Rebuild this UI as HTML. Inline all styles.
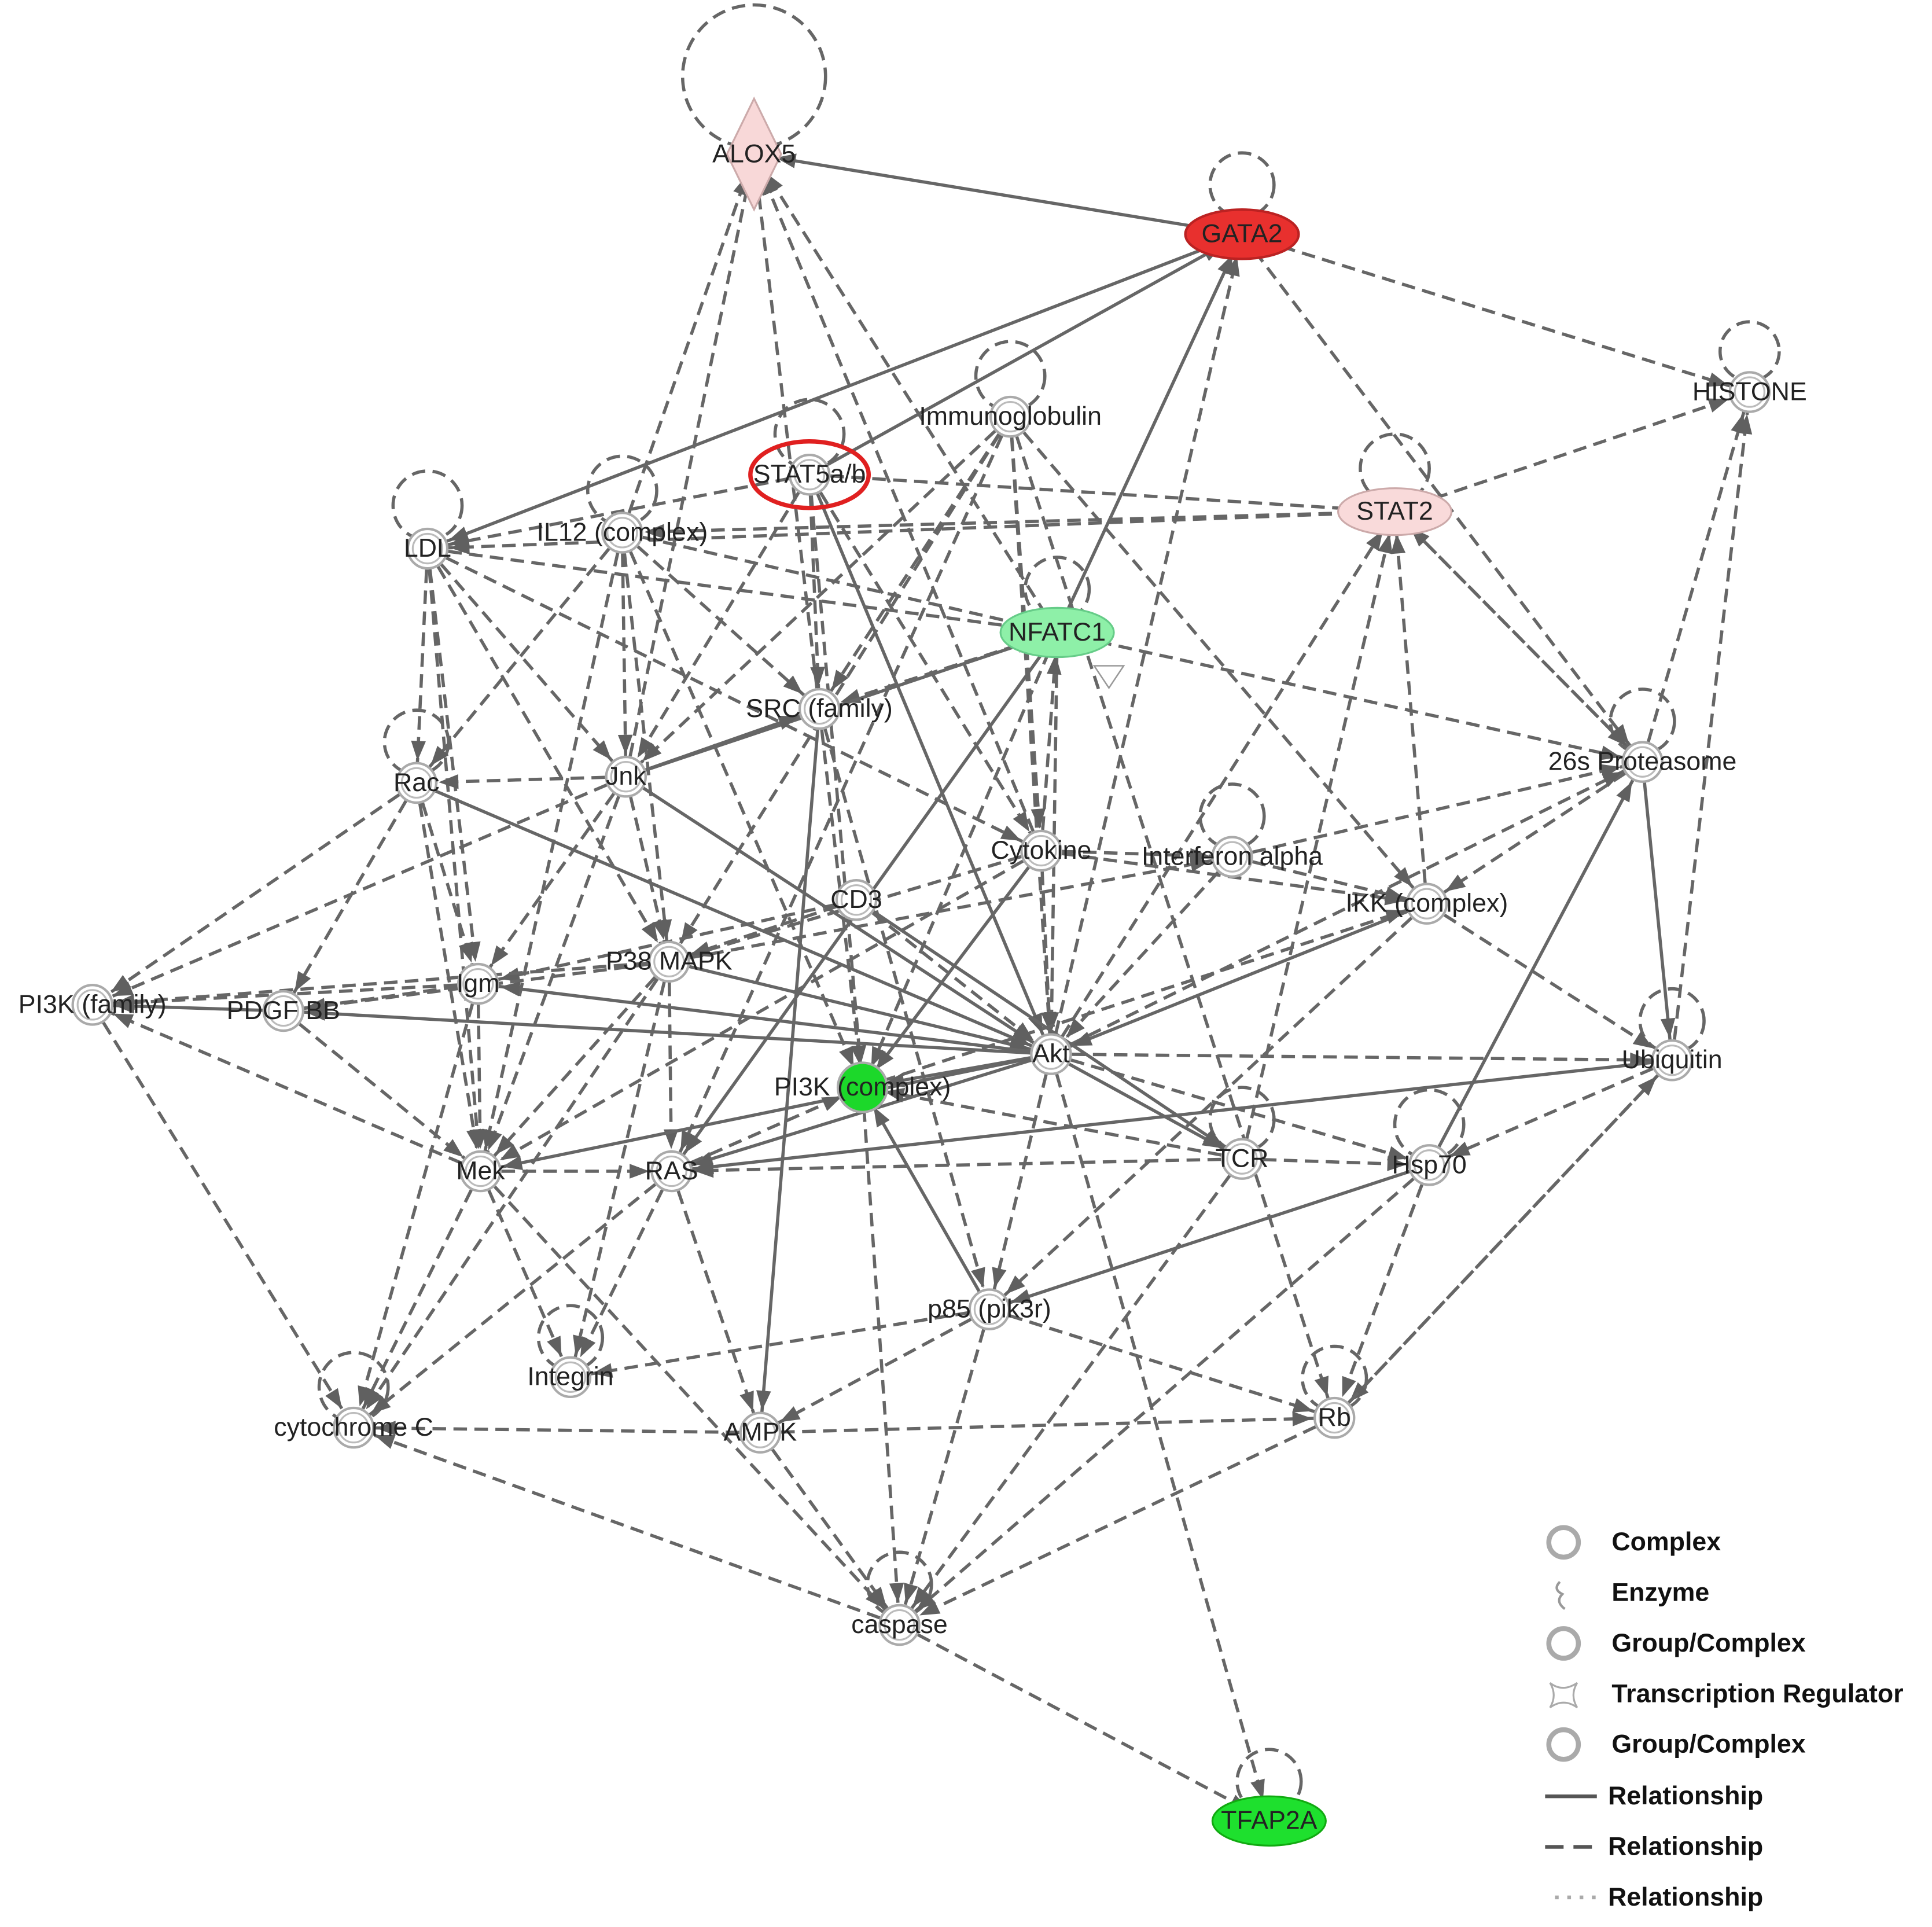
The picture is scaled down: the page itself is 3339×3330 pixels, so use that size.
<!DOCTYPE html>
<html><head><meta charset="utf-8"><style>
html,body{margin:0;padding:0;background:#fff;}
svg{display:block;}
.d{stroke:#666;stroke-width:2.6;stroke-dasharray:11 6;fill:none;marker-end:url(#a);}
.s{stroke:#666;stroke-width:2.6;fill:none;marker-end:url(#a);}
.lp{stroke:#666;stroke-width:2.6;stroke-dasharray:11 6;fill:none;}
.n{fill:#fff;stroke:#aaa;stroke-width:2;}
.ni{fill:none;stroke:#bbb;stroke-width:1.5;}
text{font-family:"Liberation Sans",sans-serif;font-size:21px;fill:#222;text-anchor:middle;dominant-baseline:middle;}
.lg{font-size:21px;font-weight:bold;text-anchor:start;fill:#111;}
</style></head><body>
<svg width="3339" height="3330" viewBox="0 0 1568 1563" preserveAspectRatio="none">
<defs><marker id="a" viewBox="0 0 16 12" refX="34" refY="6" markerWidth="16" markerHeight="12" markerUnits="userSpaceOnUse" orient="auto" overflow="visible"><path d="M0,0 L16,6 L0,12 z" fill="#606060"/></marker></defs>
<rect width="1568" height="1563" fill="#fff"/>
<g>
<circle class="lp" cx="612" cy="62" r="58"/>
<circle class="lp" cx="1008" cy="150" r="26"/>
<circle class="lp" cx="1420" cy="285" r="24"/>
<circle class="lp" cx="820" cy="305" r="28"/>
<circle class="lp" cx="657" cy="352" r="28"/>
<circle class="lp" cx="1132" cy="380" r="28"/>
<circle class="lp" cx="347" cy="410" r="28"/>
<circle class="lp" cx="505" cy="398" r="28"/>
<circle class="lp" cx="858" cy="478" r="26"/>
<circle class="lp" cx="1333" cy="585" r="26"/>
<circle class="lp" cx="338" cy="602" r="26"/>
<circle class="lp" cx="1000" cy="662" r="26"/>
<circle class="lp" cx="1357" cy="828" r="26"/>
<circle class="lp" cx="1008" cy="908" r="26"/>
<circle class="lp" cx="1160" cy="912" r="28"/>
<circle class="lp" cx="463" cy="1085" r="26"/>
<circle class="lp" cx="1083" cy="1118" r="26"/>
<circle class="lp" cx="287" cy="1125" r="28"/>
<circle class="lp" cx="730" cy="1285" r="26"/>
<circle class="lp" cx="1030" cy="1445" r="26"/>
<line class="s" x1="1008" y1="190" x2="612" y2="125"/>
<line class="d" x1="1008" y1="190" x2="1420" y2="318"/>
<line class="d" x1="1008" y1="190" x2="1333" y2="618"/>
<line class="s" x1="657" y1="385" x2="1008" y2="190"/>
<line class="s" x1="858" y1="513" x2="1008" y2="190"/>
<line class="d" x1="853" y1="855" x2="1008" y2="190"/>
<line class="d" x1="505" y1="432" x2="612" y2="125"/>
<line class="d" x1="508" y1="630" x2="612" y2="125"/>
<line class="d" x1="858" y1="513" x2="612" y2="125"/>
<line class="d" x1="845" y1="690" x2="612" y2="125"/>
<line class="d" x1="665" y1="575" x2="612" y2="125"/>
<line class="d" x1="1132" y1="415" x2="1420" y2="318"/>
<line class="d" x1="1333" y1="618" x2="1420" y2="318"/>
<line class="d" x1="1357" y1="860" x2="1420" y2="318"/>
<line class="d" x1="1132" y1="415" x2="347" y2="445"/>
<line class="d" x1="1132" y1="415" x2="505" y2="432"/>
<line class="d" x1="657" y1="385" x2="1132" y2="415"/>
<line class="d" x1="1333" y1="618" x2="1132" y2="415"/>
<line class="d" x1="1132" y1="415" x2="1333" y2="618"/>
<line class="d" x1="853" y1="855" x2="1132" y2="415"/>
<line class="d" x1="1008" y1="940" x2="1132" y2="415"/>
<line class="d" x1="1158" y1="733" x2="1132" y2="415"/>
<line class="s" x1="1008" y1="190" x2="347" y2="445"/>
<line class="d" x1="657" y1="385" x2="347" y2="445"/>
<line class="d" x1="820" y1="338" x2="508" y2="630"/>
<line class="d" x1="820" y1="338" x2="665" y2="575"/>
<line class="d" x1="820" y1="338" x2="1158" y2="733"/>
<line class="d" x1="820" y1="338" x2="1083" y2="1150"/>
<line class="d" x1="820" y1="338" x2="853" y2="855"/>
<line class="d" x1="820" y1="338" x2="545" y2="950"/>
<line class="d" x1="820" y1="338" x2="845" y2="690"/>
<line class="d" x1="820" y1="338" x2="543" y2="780"/>
<line class="d" x1="347" y1="445" x2="338" y2="635"/>
<line class="d" x1="347" y1="445" x2="508" y2="630"/>
<line class="d" x1="347" y1="445" x2="388" y2="798"/>
<line class="d" x1="347" y1="445" x2="543" y2="780"/>
<line class="d" x1="347" y1="445" x2="390" y2="950"/>
<line class="d" x1="347" y1="445" x2="858" y2="513"/>
<line class="d" x1="347" y1="445" x2="845" y2="690"/>
<line class="d" x1="505" y1="432" x2="338" y2="635"/>
<line class="d" x1="505" y1="432" x2="508" y2="630"/>
<line class="d" x1="505" y1="432" x2="543" y2="780"/>
<line class="d" x1="505" y1="432" x2="858" y2="513"/>
<line class="d" x1="505" y1="432" x2="390" y2="950"/>
<line class="d" x1="505" y1="432" x2="700" y2="882"/>
<line class="d" x1="505" y1="432" x2="665" y2="575"/>
<line class="s" x1="657" y1="385" x2="853" y2="855"/>
<line class="d" x1="657" y1="385" x2="700" y2="882"/>
<line class="d" x1="657" y1="385" x2="665" y2="575"/>
<line class="d" x1="657" y1="385" x2="508" y2="630"/>
<line class="d" x1="657" y1="385" x2="845" y2="690"/>
<line class="d" x1="858" y1="513" x2="1333" y2="618"/>
<line class="d" x1="858" y1="513" x2="665" y2="575"/>
<line class="s" x1="508" y1="630" x2="858" y2="513"/>
<line class="d" x1="858" y1="513" x2="853" y2="855"/>
<line class="d" x1="845" y1="690" x2="858" y2="513"/>
<line class="s" x1="858" y1="513" x2="545" y2="950"/>
<line class="d" x1="858" y1="513" x2="700" y2="882"/>
<line class="d" x1="665" y1="575" x2="700" y2="882"/>
<line class="d" x1="665" y1="575" x2="803" y2="1062"/>
<line class="s" x1="1333" y1="618" x2="1357" y2="860"/>
<line class="d" x1="1333" y1="618" x2="1158" y2="733"/>
<line class="d" x1="1000" y1="695" x2="1333" y2="618"/>
<line class="d" x1="853" y1="855" x2="1333" y2="618"/>
<line class="s" x1="1160" y1="945" x2="1333" y2="618"/>
<line class="d" x1="338" y1="635" x2="75" y2="815"/>
<line class="d" x1="338" y1="635" x2="230" y2="820"/>
<line class="d" x1="508" y1="630" x2="338" y2="635"/>
<line class="s" x1="338" y1="635" x2="853" y2="855"/>
<line class="d" x1="338" y1="635" x2="390" y2="950"/>
<line class="d" x1="338" y1="635" x2="388" y2="798"/>
<line class="s" x1="508" y1="630" x2="853" y2="855"/>
<line class="d" x1="508" y1="630" x2="543" y2="780"/>
<line class="d" x1="508" y1="630" x2="390" y2="950"/>
<line class="d" x1="508" y1="630" x2="75" y2="815"/>
<line class="d" x1="508" y1="630" x2="388" y2="798"/>
<line class="s" x1="508" y1="630" x2="665" y2="575"/>
<line class="d" x1="845" y1="690" x2="1000" y2="695"/>
<line class="d" x1="845" y1="690" x2="853" y2="855"/>
<line class="d" x1="845" y1="690" x2="543" y2="780"/>
<line class="s" x1="845" y1="690" x2="700" y2="882"/>
<line class="d" x1="845" y1="690" x2="390" y2="950"/>
<line class="d" x1="845" y1="690" x2="1158" y2="733"/>
<line class="d" x1="1000" y1="695" x2="1158" y2="733"/>
<line class="d" x1="1000" y1="695" x2="853" y2="855"/>
<line class="d" x1="543" y1="780" x2="1000" y2="695"/>
<line class="s" x1="1158" y1="733" x2="853" y2="855"/>
<line class="d" x1="1158" y1="733" x2="1357" y2="860"/>
<line class="d" x1="1158" y1="733" x2="803" y2="1062"/>
<line class="d" x1="700" y1="882" x2="1158" y2="733"/>
<line class="d" x1="695" y1="730" x2="853" y2="855"/>
<line class="d" x1="695" y1="730" x2="543" y2="780"/>
<line class="d" x1="695" y1="730" x2="388" y2="798"/>
<line class="s" x1="543" y1="780" x2="853" y2="855"/>
<line class="d" x1="543" y1="780" x2="75" y2="815"/>
<line class="d" x1="543" y1="780" x2="230" y2="820"/>
<line class="d" x1="543" y1="780" x2="545" y2="950"/>
<line class="d" x1="543" y1="780" x2="390" y2="950"/>
<line class="d" x1="543" y1="780" x2="463" y2="1117"/>
<line class="d" x1="388" y1="798" x2="75" y2="815"/>
<line class="d" x1="388" y1="798" x2="230" y2="820"/>
<line class="d" x1="388" y1="798" x2="390" y2="950"/>
<line class="s" x1="230" y1="820" x2="75" y2="815"/>
<line class="d" x1="230" y1="820" x2="390" y2="950"/>
<line class="d" x1="390" y1="950" x2="75" y2="815"/>
<line class="s" x1="853" y1="855" x2="700" y2="882"/>
<line class="s" x1="853" y1="855" x2="1008" y2="940"/>
<line class="s" x1="853" y1="855" x2="545" y2="950"/>
<line class="s" x1="853" y1="855" x2="390" y2="950"/>
<line class="d" x1="853" y1="855" x2="803" y2="1062"/>
<line class="d" x1="853" y1="855" x2="1357" y2="860"/>
<line class="d" x1="853" y1="855" x2="1160" y2="945"/>
<line class="s" x1="853" y1="855" x2="388" y2="798"/>
<line class="s" x1="853" y1="855" x2="230" y2="820"/>
<line class="d" x1="1357" y1="860" x2="1160" y2="945"/>
<line class="s" x1="1357" y1="860" x2="545" y2="950"/>
<line class="d" x1="1357" y1="860" x2="1083" y2="1150"/>
<line class="d" x1="1008" y1="940" x2="700" y2="882"/>
<line class="d" x1="1008" y1="940" x2="545" y2="950"/>
<line class="d" x1="1008" y1="940" x2="1160" y2="945"/>
<line class="s" x1="1160" y1="945" x2="803" y2="1062"/>
<line class="d" x1="1160" y1="945" x2="1083" y2="1150"/>
<line class="d" x1="390" y1="950" x2="545" y2="950"/>
<line class="d" x1="390" y1="950" x2="287" y2="1158"/>
<line class="d" x1="390" y1="950" x2="463" y2="1117"/>
<line class="d" x1="545" y1="950" x2="700" y2="882"/>
<line class="d" x1="545" y1="950" x2="463" y2="1117"/>
<line class="d" x1="545" y1="950" x2="617" y2="1162"/>
<line class="d" x1="803" y1="1062" x2="463" y2="1117"/>
<line class="d" x1="803" y1="1062" x2="617" y2="1162"/>
<line class="s" x1="803" y1="1062" x2="700" y2="882"/>
<line class="d" x1="803" y1="1062" x2="1083" y2="1150"/>
<line class="d" x1="617" y1="1162" x2="1083" y2="1150"/>
<line class="d" x1="617" y1="1162" x2="287" y2="1158"/>
<line class="d" x1="730" y1="1318" x2="287" y2="1158"/>
<line class="d" x1="730" y1="1318" x2="1030" y2="1477"/>
<line class="d" x1="1160" y1="945" x2="730" y2="1318"/>
<line class="d" x1="1083" y1="1150" x2="730" y2="1318"/>
<line class="d" x1="1008" y1="940" x2="730" y2="1318"/>
<line class="d" x1="803" y1="1062" x2="730" y2="1318"/>
<line class="d" x1="853" y1="855" x2="1030" y2="1477"/>
<line class="d" x1="617" y1="1162" x2="730" y2="1318"/>
<line class="d" x1="700" y1="882" x2="730" y2="1318"/>
<line class="d" x1="390" y1="950" x2="730" y2="1318"/>
<line class="d" x1="75" y1="815" x2="287" y2="1158"/>
<line class="d" x1="388" y1="798" x2="287" y2="1158"/>
<line class="d" x1="543" y1="780" x2="287" y2="1158"/>
<line class="d" x1="545" y1="950" x2="287" y2="1158"/>
<line class="s" x1="695" y1="730" x2="1008" y2="940"/>
<line class="s" x1="665" y1="575" x2="617" y2="1162"/>
<line class="d" x1="1083" y1="1150" x2="1357" y2="860"/>
</g>
<g>
<polygon points="612,80 634,125 612,170 590,125" fill="#f8d8d8" stroke="#caa" stroke-width="1.5"/>
<ellipse cx="1008" cy="190" rx="46" ry="20" fill="#e8302e" stroke="#b22" stroke-width="2"/>
<ellipse cx="1132" cy="415" rx="46" ry="19" fill="#f9dada" stroke="#caa" stroke-width="1.5"/>
<ellipse cx="858" cy="513" rx="46" ry="20" fill="#8ef0a8" stroke="#6c8" stroke-width="1.5"/>
<ellipse cx="1030" cy="1477" rx="46" ry="20" fill="#1ee02e" stroke="#1a1" stroke-width="1.5"/>
<circle cx="700" cy="882" r="20" fill="#1cd82a" stroke="#aaa" stroke-width="2"/>
<polygon points="888,540 912,540 900,558" fill="#fff" stroke="#999" stroke-width="1.2"/>
<circle class="n" cx="1420" cy="318" r="16"/><circle class="ni" cx="1420" cy="318" r="12"/>
<circle class="n" cx="820" cy="338" r="16"/><circle class="ni" cx="820" cy="338" r="12"/>
<circle class="n" cx="657" cy="385" r="16"/><circle class="ni" cx="657" cy="385" r="12"/>
<circle class="n" cx="347" cy="445" r="16"/><circle class="ni" cx="347" cy="445" r="12"/>
<circle class="n" cx="505" cy="432" r="16"/><circle class="ni" cx="505" cy="432" r="12"/>
<circle class="n" cx="665" cy="575" r="16"/><circle class="ni" cx="665" cy="575" r="12"/>
<circle class="n" cx="1333" cy="618" r="16"/><circle class="ni" cx="1333" cy="618" r="12"/>
<circle class="n" cx="338" cy="635" r="16"/><circle class="ni" cx="338" cy="635" r="12"/>
<circle class="n" cx="508" cy="630" r="16"/><circle class="ni" cx="508" cy="630" r="12"/>
<circle class="n" cx="845" cy="690" r="16"/><circle class="ni" cx="845" cy="690" r="12"/>
<circle class="n" cx="1000" cy="695" r="16"/><circle class="ni" cx="1000" cy="695" r="12"/>
<circle class="n" cx="1158" cy="733" r="16"/><circle class="ni" cx="1158" cy="733" r="12"/>
<circle class="n" cx="695" cy="730" r="16"/><circle class="ni" cx="695" cy="730" r="12"/>
<circle class="n" cx="543" cy="780" r="16"/><circle class="ni" cx="543" cy="780" r="12"/>
<circle class="n" cx="388" cy="798" r="16"/><circle class="ni" cx="388" cy="798" r="12"/>
<circle class="n" cx="75" cy="815" r="16"/><circle class="ni" cx="75" cy="815" r="12"/>
<circle class="n" cx="230" cy="820" r="16"/><circle class="ni" cx="230" cy="820" r="12"/>
<circle class="n" cx="853" cy="855" r="16"/><circle class="ni" cx="853" cy="855" r="12"/>
<circle class="n" cx="1357" cy="860" r="16"/><circle class="ni" cx="1357" cy="860" r="12"/>
<circle class="n" cx="1008" cy="940" r="16"/><circle class="ni" cx="1008" cy="940" r="12"/>
<circle class="n" cx="1160" cy="945" r="16"/><circle class="ni" cx="1160" cy="945" r="12"/>
<circle class="n" cx="390" cy="950" r="16"/><circle class="ni" cx="390" cy="950" r="12"/>
<circle class="n" cx="545" cy="950" r="16"/><circle class="ni" cx="545" cy="950" r="12"/>
<circle class="n" cx="803" cy="1062" r="16"/><circle class="ni" cx="803" cy="1062" r="12"/>
<circle class="n" cx="463" cy="1117" r="16"/><circle class="ni" cx="463" cy="1117" r="12"/>
<circle class="n" cx="1083" cy="1150" r="16"/><circle class="ni" cx="1083" cy="1150" r="12"/>
<circle class="n" cx="287" cy="1158" r="16"/><circle class="ni" cx="287" cy="1158" r="12"/>
<circle class="n" cx="617" cy="1162" r="16"/><circle class="ni" cx="617" cy="1162" r="12"/>
<circle class="n" cx="730" cy="1318" r="16"/><circle class="ni" cx="730" cy="1318" r="12"/>
<ellipse cx="657" cy="385" rx="48" ry="27" fill="none" stroke="#e02020" stroke-width="3.5"/>
</g>
<g>
<text x="612" y="126">ALOX5</text>
<text x="1008" y="191">GATA2</text>
<text x="1420" y="319">HISTONE</text>
<text x="820" y="339">Immunoglobulin</text>
<text x="657" y="386">STAT5a/b</text>
<text x="1132" y="416">STAT2</text>
<text x="347" y="446">LDL</text>
<text x="505" y="433">IL12 (complex)</text>
<text x="858" y="514">NFATC1</text>
<text x="665" y="576">SRC (family)</text>
<text x="1333" y="619">26s Proteasome</text>
<text x="338" y="636">Rac</text>
<text x="508" y="631">Jnk</text>
<text x="845" y="691">Cytokine</text>
<text x="1000" y="696">Interferon alpha</text>
<text x="1158" y="734">IKK (complex)</text>
<text x="695" y="731">CD3</text>
<text x="543" y="781">P38 MAPK</text>
<text x="388" y="799">Igm</text>
<text x="75" y="816">PI3K (family)</text>
<text x="230" y="821">PDGF BB</text>
<text x="853" y="856">Akt</text>
<text x="1357" y="861">Ubiquitin</text>
<text x="700" y="883">PI3K (complex)</text>
<text x="1008" y="941">TCR</text>
<text x="1160" y="946">Hsp70</text>
<text x="390" y="951">Mek</text>
<text x="545" y="951">RAS</text>
<text x="803" y="1063">p85 (pik3r)</text>
<text x="463" y="1118">Integrin</text>
<text x="1083" y="1151">Rb</text>
<text x="287" y="1159">cytochrome C</text>
<text x="617" y="1163">AMPK</text>
<text x="730" y="1319">caspase</text>
<text x="1030" y="1478">TFAP2A</text>
</g>
<g>
<circle cx="1269" cy="1251" r="12" fill="none" stroke="#aaa" stroke-width="4"/>
<path d="M1266,1283 q-6,6 2,10 q-6,6 2,12" fill="none" stroke="#999" stroke-width="2"/>
<circle cx="1269" cy="1333" r="12" fill="none" stroke="#aaa" stroke-width="4"/>
<path d="M1258,1365 q10,8 22,0 q-6,10 0,20 q-11,-8 -22,0 q6,-10 0,-20z" fill="none" stroke="#aaa" stroke-width="1.5"/>
<circle cx="1269" cy="1415" r="12" fill="none" stroke="#aaa" stroke-width="4"/>
<text class="lg" x="1308" y="1252">Complex</text>
<text class="lg" x="1308" y="1293">Enzyme</text>
<text class="lg" x="1308" y="1334">Group/Complex</text>
<text class="lg" x="1308" y="1375">Transcription Regulator</text>
<text class="lg" x="1308" y="1416">Group/Complex</text>
<line x1="1254" y1="1457" x2="1296" y2="1457" stroke="#555" stroke-width="3"/>
<line x1="1254" y1="1498" x2="1296" y2="1498" stroke="#555" stroke-width="3" stroke-dasharray="15 8"/>
<line x1="1262" y1="1539" x2="1296" y2="1539" stroke="#aaa" stroke-width="3" stroke-dasharray="3 7"/>
<text class="lg" x="1305" y="1458">Relationship</text>
<text class="lg" x="1305" y="1499">Relationship</text>
<text class="lg" x="1305" y="1540">Relationship</text>
</g>
</svg>
</body></html>
